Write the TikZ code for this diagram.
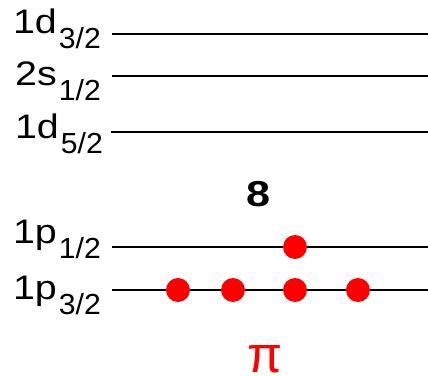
\documentclass[tikz,border=0pt]{standalone}
\usepackage{fontspec}
\setmainfont{Liberation Sans}
\definecolor{dotred}{RGB}{255,0,0}
\newcommand{\lvl}[2]{\scalebox{1.16}[1]{\fontsize{34bp}{34bp}\selectfont #1}\kern2bp\raisebox{-15bp}{\scalebox{1.04}[1]{\fontsize{29bp}{29bp}\selectfont #2}}}
\tikzset{
  level/.style={line width=1.6bp, black},
  lab/.style={inner sep=0pt, anchor=base east},
  nucleon/.style={circle, fill=dotred, minimum size=24bp, inner sep=0pt},
}
\begin{document}
\begin{tikzpicture}[x=1bp, y=-1bp]
\useasboundingbox (0,0) rectangle (428,376);
% level lines
\coordinate (a1) at (112,34);  \coordinate (b1) at (428,34);
\coordinate (a2) at (112,76);  \coordinate (b2) at (428,76);
\coordinate (a3) at (111,132); \coordinate (b3) at (428,132);
\coordinate (a4) at (112,247); \coordinate (b4) at (428,247);
\coordinate (a5) at (112,290); \coordinate (b5) at (428,290);
\draw[level] (a1) -- (b1);
\draw[level] (a2) -- (b2);
\draw[level] (a3) -- (b3);
\draw[level] (a4) -- (b4);
\draw[level] (a5) -- (b5);
% labels
\node[lab] (l1) at (101,33) {\lvl{1d}{3/2}};
\node[lab] (l2) at (101,85) {\lvl{2s}{1/2}};
\node[lab] (l3) at (103,138) {\lvl{1d}{5/2}};
\node[lab] (l4) at (101,243) {\lvl{1p}{1/2}};
\node[lab] (l5) at (101,299) {\lvl{1p}{3/2}};
% magic number
\node[inner sep=0pt, anchor=base] (m) at (259,206) {\scalebox{1.2}[1]{\fontsize{36bp}{36bp}\selectfont\bfseries 8}};
% nucleons
\node[nucleon] (n1) at (295,247) {};
\node[nucleon] (n2) at (178,290) {};
\node[nucleon] (n3) at (233,290) {};
\node[nucleon] (n4) at (295,290) {};
\node[nucleon] (n5) at (358,290) {};
% pi
\node[inner sep=0pt, anchor=south, text=dotred] (pi) at (265.5,373) {\resizebox{35bp}{27bp}{π}};
\end{tikzpicture}
\end{document}
